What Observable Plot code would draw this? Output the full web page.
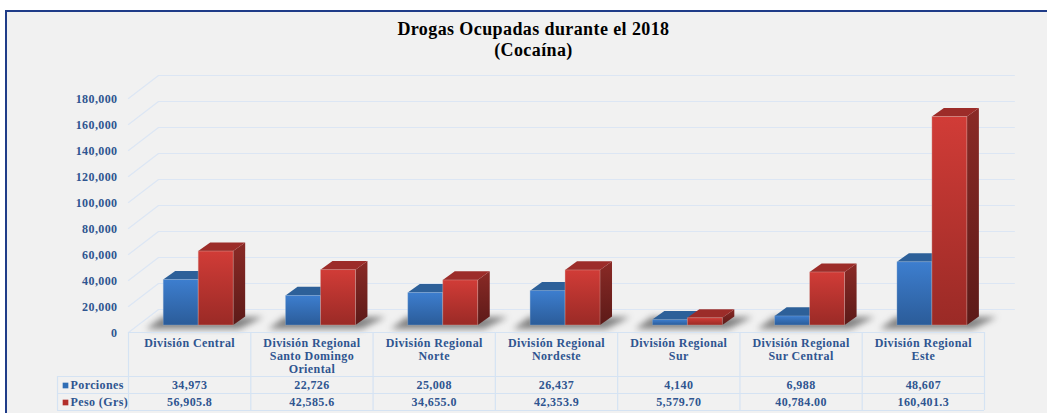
<!DOCTYPE html>
<html><head><meta charset="utf-8">
<script src="https://cdn.jsdelivr.net/npm/d3@7"></script>
<script src="https://cdn.jsdelivr.net/npm/@observablehq/plot@0.6"></script>
<style>
html,body{margin:0;padding:0;background:#fff;width:1047px;height:413px;overflow:hidden}
#frame{position:absolute;left:5px;top:10px;width:1200px;height:420px;background:#f1f1f1;border:2px solid #1f3c88;box-sizing:border-box}
#chart{position:absolute;left:0;top:0}
svg{background:transparent!important;overflow:visible}
svg text{letter-spacing:.4px}
</style></head><body><div id="frame"></div><div id="chart"></div>
<script>
const categories = [["División Central"],["División Regional","Santo Domingo","Oriental"],["División Regional","Norte"],["División Regional","Nordeste"],["División Regional","Sur"],["División Regional","Sur Central"],["División Regional","Este"]];
const porciones = [34973,22726,25008,26437,4140,6988,48607];
const peso = [56905.8,42585.6,34655.0,42353.9,5579.70,40784.00,160401.3];
const porcionesLabels = ["34,973","22,726","25,008","26,437","4,140","6,988","48,607"];
const pesoLabels = ["56,905.8","42,585.6","34,655.0","42,353.9","5,579.70","40,784.00","160,401.3"];
const yTicks = d3.range(0,180001,20000);
const titleLines = ["Drogas Ocupadas durante el 2018","(Cocaína)"];

const FONT = "Liberation Serif";
const TXT = "#2f5590";
const GRID = "#dce6f4";
const PX = 1/122.3;           // x units per pixel
const PY = 1000/1.3;          // y units per pixel
const wallX = 30*PX, wallY = 23*PY;
const lift = 7*PY, depthX = 12*PX, depthY = 8.6*PY;
const colX = [0.288,0.574,0.86];

const idx = categories.map((_,i)=>i);
const side = (vals)=>idx.flatMap(i=>[0,1].map(t=>({i,x:i+colX[2]+t*depthX,y1:lift+t*depthY,y2:lift+vals[i]+t*depthY})));
const top3 = (vals,a,b)=>idx.flatMap(i=>[0,1].map(t=>({i,y:lift+vals[i]+t*depthY,x1:i+a+t*depthX,x2:i+b+t*depthX})));
const shadow = idx.flatMap(i=>[0,1].map(t=>({i,y:lift-4*PY+t*12*PY,x1:i+colX[0]-17*PX+t*16*PX,x2:i+colX[2]+6*PX+t*24*PX})));
const grid = yTicks.flatMap(v=>[{v,x:0,y:v},{v,x:wallX,y:v+wallY},{v,x:886*PX,y:v+wallY}]);
const rowY = [0,-33846,-46923,-60000];
const labelCol = -71*PX;

const defs = ()=>{
  const d = d3.create("svg:defs");
  const g = (id,a,b)=>{const l=d.append("linearGradient").attr("id",id).attr("x1",0).attr("x2",0).attr("y1",0).attr("y2",1);
    l.append("stop").attr("offset",0).attr("stop-color",a);l.append("stop").attr("offset",1).attr("stop-color",b);};
  g("gBlue","#3d7ecf","#2b5c99");
  g("gRed","#d13c37","#9a2a26");
  g("gRedSide","#8a2a26","#5c1a18");
  return d.node();
};

const txt = {fontFamily:FONT,fontWeight:"bold",fill:TXT,stroke:null};
const edge = {stroke:"#d9b5b0",strokeOpacity:0.45,strokeWidth:0.8};

const plot = Plot.plot({
  width:1047,height:413,
  marginLeft:128,marginRight:63,marginTop:98,marginBottom:81,
  x:{domain:[0,7],axis:null},
  y:{domain:[0,180000]},
  style:{background:"transparent",overflow:"visible"},
  marks:[
    defs,
    Plot.line(grid,{x:"x",y:"y",z:"v",stroke:GRID,strokeWidth:1.2}),
    Plot.axisY(yTicks,{tickSize:0,tickPadding:11,dy:1,label:null,tickFormat:d3.format(","),fontFamily:FONT,fontWeight:"bold",fontSize:12,fill:TXT}),
    // shadows
    Plot.areaX(shadow,{y:"y",x1:"x1",x2:"x2",z:"i",fill:"#3a3a3a",fillOpacity:0.6,imageFilter:"blur(3px)"}),
    // blue
    Plot.areaX(top3(porciones,colX[0],colX[1]),{y:"y",x1:"x1",x2:"x2",z:"i",fill:"#2d6099"}),
    Plot.rectY(idx,{x1:i=>i+colX[0],x2:i=>i+colX[1],y1:lift,y2:i=>lift+porciones[i],fill:"url(#gBlue)",stroke:"#9db8d8",strokeOpacity:0.4,strokeWidth:0.8}),
    // red
    Plot.areaY(side(peso),{x:"x",y1:"y1",y2:"y2",z:"i",fill:"url(#gRedSide)"}),
    Plot.areaX(top3(peso,colX[1],colX[2]),{y:"y",x1:"x1",x2:"x2",z:"i",fill:"#9c2c29"}),
    Plot.rectY(idx,{x1:i=>i+colX[1],x2:i=>i+colX[2],y1:lift,y2:i=>lift+peso[i],fill:"url(#gRed)",...edge}),
    // table
    Plot.ruleX(d3.range(0,8),{y1:rowY[0],y2:rowY[3],stroke:"#d5e3f3",strokeWidth:1.2}),
    Plot.ruleX([labelCol],{y1:rowY[1],y2:rowY[3],stroke:"#d5e3f3",strokeWidth:1.2}),
    Plot.ruleY(rowY,{x1:d=>d===0?0:labelCol,x2:7,stroke:"#d5e3f3",strokeWidth:1.2}),
    Plot.text(idx,{x:i=>i+.5,y:0,dy:5,text:i=>categories[i].join("\n"),lineHeight:1.1,lineAnchor:"top",fontSize:12,...txt}),
    Plot.text(idx,{x:i=>i+.5,y:rowY[1],dy:9,text:i=>porcionesLabels[i],fontSize:12,...txt}),
    Plot.text(idx,{x:i=>i+.5,y:rowY[2],dy:9,text:i=>pesoLabels[i],fontSize:12,...txt}),
    Plot.text(["Porciones"],{x:labelCol,y:rowY[1],dx:13,dy:9,textAnchor:"start",fontSize:12,...txt}),
    Plot.text(["Peso (Grs)"],{x:labelCol,y:rowY[2],dx:13,dy:9,textAnchor:"start",fontSize:12,...txt}),
    Plot.dot([0],{x:labelCol,y:rowY[1],dx:8,dy:9,symbol:"square",r:3.2,fill:"#2f6db5"}),
    Plot.dot([0],{x:labelCol,y:rowY[2],dx:8,dy:9,symbol:"square",r:3.2,fill:"#b22f2b"}),
    // title
    Plot.text(titleLines,{x:405*PX,y:180000,text:d=>d,fontSize:18,fontFamily:FONT,fontWeight:"bold",fill:"#000",stroke:null,dy:-69,filter:(d,i)=>i===0}),
    Plot.text(titleLines,{x:405*PX,y:180000,text:d=>d,fontSize:18,fontFamily:FONT,fontWeight:"bold",fill:"#000",stroke:null,dy:-48,filter:(d,i)=>i===1})
  ]
});
document.getElementById("chart").appendChild(plot);
</script></body></html>
